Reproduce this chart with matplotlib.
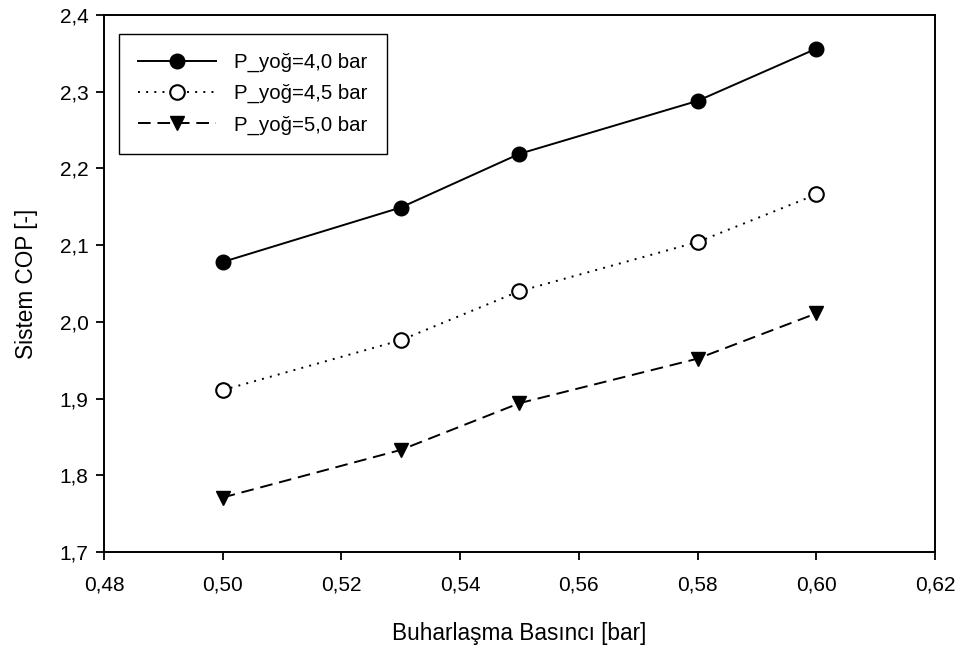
import numpy as np
import matplotlib.pyplot as plt
from matplotlib.ticker import FuncFormatter, MultipleLocator

plt.rcParams['font.family'] = ['Liberation Sans', 'DejaVu Sans']

# -----------------------------
# Data
# -----------------------------
p_evap = [0.50, 0.53, 0.55, 0.58, 0.60]
cop_40 = [2.078, 2.149, 2.219, 2.288, 2.356]
cop_45 = [1.911, 1.976, 2.040, 2.104, 2.166]
cop_50 = [1.771, 1.833, 1.894, 1.952, 2.011]
labels = ["P_yoğ=4,0 bar", "P_yoğ=4,5 bar", "P_yoğ=5,0 bar"]

# -----------------------------
# Plot
# -----------------------------
fig = plt.figure(figsize=(9.59, 6.5), dpi=100)
ax = fig.add_axes([0.1084, 0.1508, 0.8666, 0.8262])

ax.plot(p_evap, cop_40, color='black', lw=1.4, ls='-', marker='o',
        ms=10.5, mfc='black', mec='black', label=labels[0])
ax.plot(p_evap, cop_45, color='black', lw=1.4, ls=(0, (1, 3.2)), marker='o',
        ms=10.5, mfc='white', mec='black', mew=1.5, label=labels[1])
ax.plot(p_evap, cop_50, color='black', lw=1.4, ls=(0, (6.5, 3.5)), marker='v',
        ms=10.5, mfc='black', mec='black', label=labels[2])

ax.set_xlim(0.48, 0.62)
ax.set_ylim(1.7, 2.4)
ax.xaxis.set_major_locator(MultipleLocator(0.02))
ax.yaxis.set_major_locator(MultipleLocator(0.1))
ax.xaxis.set_major_formatter(FuncFormatter(lambda v, p: f"{v:.2f}".replace('.', ',')))
ax.yaxis.set_major_formatter(FuncFormatter(lambda v, p: f"{v:.1f}".replace('.', ',')))
ax.tick_params(direction='out', length=6, width=1.3, labelsize=15)
ax.tick_params(axis='x', pad=11)
ax.tick_params(axis='y', pad=5)
for s in ax.spines.values():
    s.set_linewidth(1.4)

ax.set_xlabel("Buharlaşma Basıncı [bar]", fontsize=16.3, labelpad=20)
ax.set_ylabel("Sistem COP [-]", fontsize=16.3, labelpad=16)

leg = ax.legend(loc='upper left', bbox_to_anchor=(0.018, 0.965), fontsize=14.7,
                numpoints=1, handlelength=3.8, fancybox=False, framealpha=1,
                edgecolor='black', borderpad=0.95, labelspacing=0.58,
                handletextpad=0.9, borderaxespad=0)
leg.get_frame().set_linewidth(1.0)

plt.savefig("out.png", dpi=100)
